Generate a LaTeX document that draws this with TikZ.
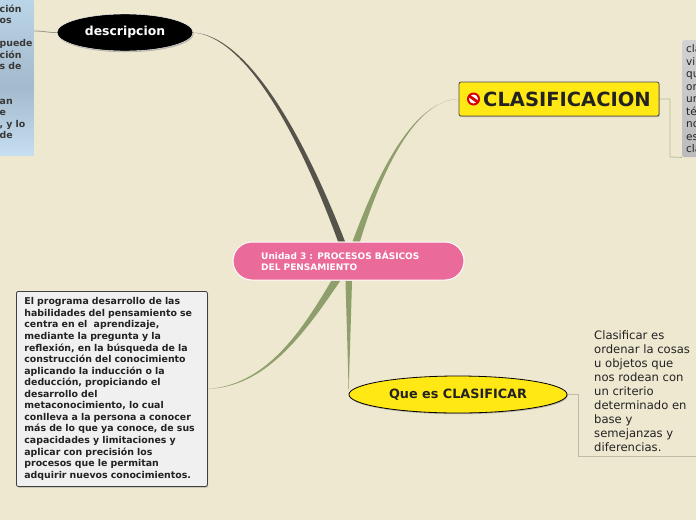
\documentclass[tikz,border=0pt]{standalone}
\usepackage{fontspec}
\setmainfont{DejaVu Sans}
\usetikzlibrary{shapes.geometric,shadows,backgrounds,calc}
\definecolor{paper}{HTML}{EEE8D1}
\definecolor{rosa}{HTML}{EA6A99}
\definecolor{amarillo}{HTML}{FFE814}
\definecolor{oliva}{HTML}{8F9F6B}
\definecolor{carbon}{HTML}{56544A}
\definecolor{tinta}{HTML}{222222}
\definecolor{azulbajo}{HTML}{C6DEF1}
\definecolor{azulmedio}{HTML}{A4BACD}
\definecolor{azulalto}{HTML}{BAD4E8}
\definecolor{grisbajo}{HTML}{BBBBBB}
\definecolor{grisalto}{HTML}{D2D2D2}
\pgfdeclareverticalshading{barraazul}{100bp}{color(0bp)=(azulbajo); color(25bp)=(azulbajo); color(47bp)=(azulmedio); color(75bp)=(azulalto); color(100bp)=(azulalto)}
\pgfdeclareverticalshading{barragris}{100bp}{color(0bp)=(grisbajo); color(25bp)=(grisbajo); color(75bp)=(grisalto); color(100bp)=(grisalto)}
\tikzset{
  sombra/.style={drop shadow={shadow xshift=.8pt,shadow yshift=-1.2pt,opacity=.5}},
  globo/.style={ellipse,inner sep=0pt,sombra},
  rama/.style={line width=.8pt,color=#1},
  hoja/.style={inner sep=0pt,align=left,text=tinta}
}
\begin{document}
\begin{tikzpicture}[x=1pt,y=-1pt]
    \clip (0,0) rectangle (696,520);

    \node[draw=white,line width=1pt,fill=rosa,rounded corners=19pt,minimum width=231pt,minimum height=38pt,inner sep=0pt] (unidad) at (348.5,261) {};
    \node[hoja,text=white,anchor=west,font=\bfseries\fontsize{9}{11}\selectfont] (unidadtxt) at (261,260.5) {Unidad 3 : PROCESOS BÁSICOS\\DEL PENSAMIENTO};

    \node[globo,draw=white,fill=black,text=white,minimum width=136pt,minimum height=37pt,font=\bfseries\fontsize{12.4}{15}\selectfont] (descripcion) at (125,32.5) {descripcion};
    \node[draw=black!70,line width=.8pt,fill=amarillo,rounded corners=2pt,sombra,minimum width=200pt,minimum height=34pt,inner sep=0pt] (clasif) at (559,99) {};
    \node[hoja,anchor=west,font=\bfseries\fontsize{19.5}{22}\selectfont] (clasiftxt) at (483,99) {CLASIFICACION};
    \fill[red!85!black] (473.5,99) circle[radius=6.5pt];
    \fill[white] (473.5,99) circle[radius=4.5pt];
    \fill[red!85!black,rotate around={-35:(473.5,99)}] (467.5,97.6) rectangle (479.5,100.4);
    \node[globo,draw=black,line width=.8pt,fill=amarillo,minimum width=218pt,minimum height=37pt,font=\bfseries\fontsize{12.8}{15}\selectfont,text=tinta] (quees) at (458,394.5) {Que es CLASIFICAR};

    \node[draw=black!75,line width=.8pt,fill=black!6,rounded corners=2pt,sombra,anchor=north west,text width=175pt,inner xsep=8pt,inner ysep=0pt,minimum height=195pt,align=left,text=tinta,font=\bfseries\fontsize{9.4}{11.55}\selectfont] (programa) at (16,291) {El programa desarrollo de las\\habilidades del pensamiento se\\centra en el\ \ aprendizaje,\\mediante la pregunta y la\\reflexión, en la búsqueda de la\\construcción del conocimiento\\aplicando la inducción o la\\deducción, propiciando el\\desarrollo del\\metaconocimiento, lo cual\\conlleva a la persona a conocer\\más de lo que ya conoce, de sus\\capacidades y limitaciones y\\aplicar con precisión los\\procesos que le permitan\\adquirir nuevos conocimientos.};

    \node[hoja,shading=barraazul,anchor=north west,text width=33.5pt,inner xsep=.5pt,minimum height=155pt,text=tinta!90,font=\bfseries\fontsize{9.4}{11.5}\selectfont] (izquierda) at (-1,0) {ción\\os\\[11.5pt]puede\\ción\\s de\\[23pt]an\\e\\, y lo\\de\\~};

    \node[hoja,shading=barragris,rounded corners=2pt,anchor=north west,text width=28pt,inner xsep=4pt,minimum height=117pt,font=\fontsize{10.5}{12.5}\selectfont] (gris) at (682,40) {cla\\vi\\qu\\or\\un\\té\\no\\es\\cla};

    \node[hoja,anchor=north west,font=\fontsize{11.6}{14}\selectfont] (ordenar) at (594,330.5) {Clasificar es\\ordenar la cosas\\u objetos que\\nos rodean con\\un criterio\\determinado en\\base y\\semejanzas y\\diferencias.};

    \coordinate (finordenar) at (696,456.5);
    \begin{pgfonlayer}{background}
    \fill[paper] (0,0) rectangle (696,520);

    \fill[carbon] ($(unidad.north)+(-3.5,0)$) .. controls (301.5,129.5) and (246,35.5) .. (descripcion.east) .. controls (244.5,36.5) and (297.5,130.5) .. ($(unidad.north)+(-10.5,0)$) -- cycle;
    \fill[oliva] ($(unidad.north)+(4,0)$) .. controls (379,170) and (414,100.5) .. (clasif.west) .. controls (416,99.5) and (381.5,170) .. ($(unidad.north)+(11.5,0)$) -- cycle;
    \fill[oliva] ($(unidad.south)+(-17,0)$) .. controls (300,334) and (265,385) .. (programa.east) .. controls (265,387) and (303,336) .. ($(unidad.south)+(-8,0)$) -- cycle;
    \fill[oliva] ($(unidad.south)+(-3,0)$) .. controls (346.5,320) and (348,360) .. (quees.west) .. controls (349.5,360) and (351,320) .. ($(unidad.south)+(3.5,0)$) -- cycle;

    \draw[rama=black!35!paper] (descripcion.west) .. controls (50,33) and (45,31) .. (izquierda.east |- 0,31);
    \draw[rama=oliva!60!paper] (clasif.east) -- (670,99) -- (670,157) -- (gris.south west);
    \draw[rama=oliva!35!black!25!paper] (quees.east) -- (578,394.5) -- (578,456.5) -- (finordenar);
    \end{pgfonlayer}
\end{tikzpicture}
\end{document}
